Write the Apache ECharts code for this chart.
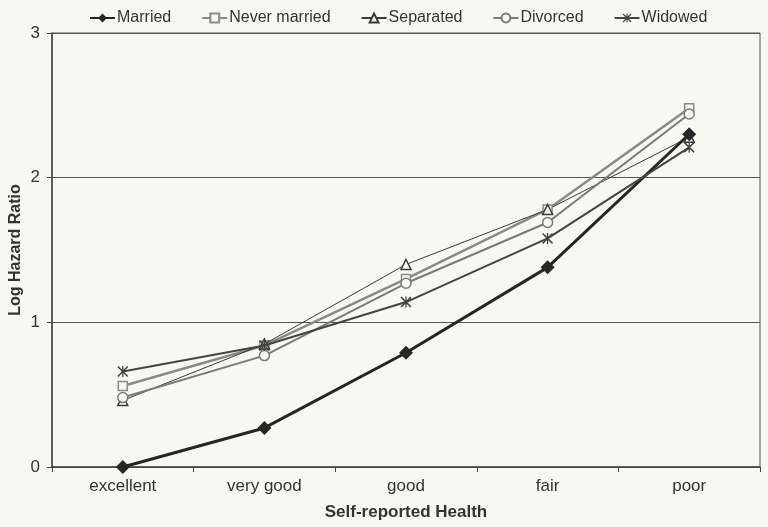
<!DOCTYPE html>
<html><head><meta charset="utf-8">
<script src="https://cdn.jsdelivr.net/npm/echarts@6/dist/echarts.min.js"></script>
<style>html,body{margin:0;padding:0;background:#f8f8f2;}#c{width:768px;height:527px;}</style>
</head><body><div id="c"></div>
<script>
const categories = ['excellent', 'very good', 'good', 'fair', 'poor'];
const married = [0, 0.27, 0.79, 1.38, 2.30];
const neverMarried = [0.56, 0.84, 1.30, 1.78, 2.48];
const separated = [0.46, 0.85, 1.40, 1.78, 2.28];
const divorced = [0.48, 0.77, 1.27, 1.69, 2.44];
const widowed = [0.66, 0.84, 1.14, 1.58, 2.21];
const yTicks = [0, 1, 2, 3];

const bg = '#f8f8f2';
const starPath = 'path://M1,0L5,4L9,0L10,1L6,5L10,9L9,10L5,6L1,10L0,9L4,5L0,1Z M4.4,0H5.6V10H4.4Z';
const chart = echarts.init(document.getElementById('c'), null, {renderer: 'canvas'});
const font = 'Liberation Sans, Arial, sans-serif';
function mk(name, data, color, width, symbol, size, filled) {
  return {
    name, type: 'line', data, symbol, symbolSize: size,
    lineStyle: {color, width},
    itemStyle: {color: filled ? color : bg, borderColor: color, borderWidth: filled ? 0 : 1.5},
    emphasis: {disabled: true}, animation: false, z: filled ? 3 : 2
  };
}
chart.setOption({
  backgroundColor: bg,
  textStyle: {fontFamily: font},
  legend: {
    top: 5, left: 84, itemGap: 30, itemWidth: 25, itemHeight: 11,
    textStyle: {fontSize: 16, color: '#333', fontFamily: font, padding: [0, 0, 0, -3]},
    data: ['Married', 'Never married', 'Separated', 'Divorced', 'Widowed']
  },
  grid: {left: 52, right: 8, top: 33, bottom: 60, show: true, borderColor: '#555', borderWidth: 1,
    backgroundColor: 'transparent', outerBoundsMode: 'none'},
  xAxis: {
    type: 'category', data: categories, boundaryGap: true,
    name: 'Self-reported Health', nameLocation: 'middle', nameGap: 37,
    nameTextStyle: {fontSize: 17, fontWeight: 'bold', color: '#333', fontFamily: font},
    axisLine: {lineStyle: {color: '#444', width: 1.5}},
    axisTick: {show: true, length: 5, lineStyle: {color: '#444'}},
    axisLabel: {fontSize: 17, color: '#333', margin: 11, fontFamily: font},
    splitLine: {show: false}
  },
  yAxis: {
    type: 'value', min: 0, max: 3, interval: 1,
    name: 'Log Hazard Ratio', nameLocation: 'middle', nameGap: 28, nameRotate: 90,
    nameMoveOverlap: false,
    nameTextStyle: {fontSize: 16, fontWeight: 'bold', color: '#333', fontFamily: font},
    axisLine: {show: true, lineStyle: {color: '#444', width: 1.5}},
    axisTick: {show: true, length: 5, lineStyle: {color: '#444'}},
    axisLabel: {fontSize: 17, color: '#333', margin: 12, fontFamily: font,
      formatter: v => yTicks.includes(v) ? String(v) : ''},
    splitLine: {show: true, lineStyle: {color: '#555', width: 1}}
  },
  series: [
    mk('Married', married, '#262626', 3, 'diamond', 14, true),
    mk('Never married', neverMarried, '#8a8a8a', 2.5, 'rect', 9, false),
    mk('Separated', separated, '#3a3a3a', 1, 'triangle', 10, false),
    mk('Divorced', divorced, '#7a7a7a', 2, 'circle', 10, false),
    mk('Widowed', widowed, '#444', 2, starPath, 11, true)
  ]
});
</script></body></html>
